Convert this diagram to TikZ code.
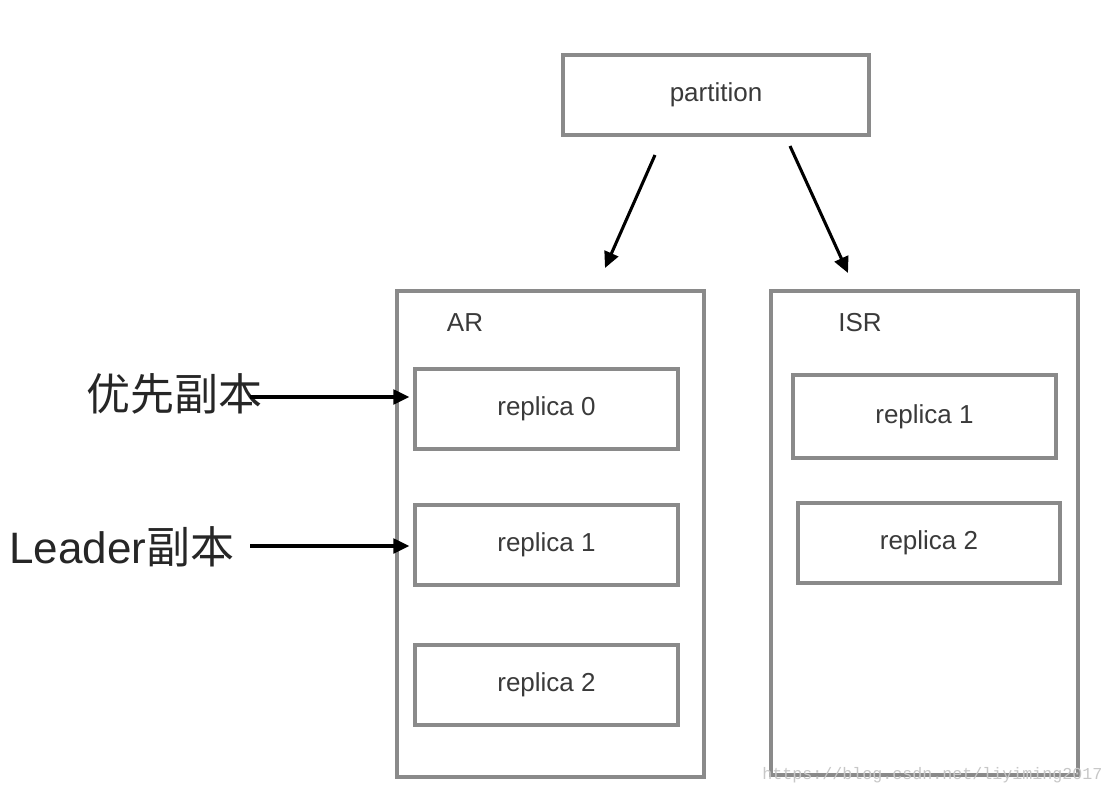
\documentclass[tikz,border=0pt]{standalone}
\usepackage{fontspec}
\setmainfont{Liberation Sans}
\newfontfamily\cjk{Noto Sans CJK SC}
\newfontfamily\wmfont{Liberation Mono}
\usetikzlibrary{arrows.meta}
\definecolor{boxgray}{HTML}{8A8A8A}
\definecolor{txtgray}{HTML}{3A3A3A}
\tikzset{
  box/.style={draw=boxgray, line width=2.4pt, rectangle, inner sep=0pt, text=txtgray, font=\fontsize{19.5}{22}\selectfont},
  arr/.style={draw=black, line width=2.3pt, -{Triangle[length=12pt,width=11pt]}},
  biglabel/.style={font=\fontsize{33}{38}\selectfont, text=black!85, inner sep=0pt},
  lbl/.style={text=txtgray, font=\fontsize{19.5}{22}\selectfont},
}
\begin{document}
\begin{tikzpicture}[x=0.75pt,y=-0.75pt]
\useasboundingbox (0,0) rectangle (1114,796);
% containers
\node[box, minimum width=306*0.75pt, minimum height=80*0.75pt] (part) at (716,95) {partition};
\node[box, minimum width=307*0.75pt, minimum height=486*0.75pt] (ar) at (550.5,534) {};
\node[box, minimum width=307*0.75pt, minimum height=484*0.75pt] (isr) at (924.5,533) {};
\node[lbl] (arlabel) at (465,323) {AR};
\node[lbl] (isrlabel) at (860,323) {ISR};
% AR replicas
\node[box, minimum width=263*0.75pt, minimum height=80*0.75pt] (ar0) at (546.5,409) {replica 0};
\node[box, minimum width=263*0.75pt, minimum height=80*0.75pt] (ar1) at (546.5,545) {replica 1};
\node[box, minimum width=263*0.75pt, minimum height=80*0.75pt] (ar2) at (546.5,685) {replica 2};
% ISR replicas
\node[box, minimum width=263*0.75pt, minimum height=83*0.75pt] (isr1) at (924.5,416.5) {replica 1};
\node[box, minimum width=262*0.75pt, minimum height=80*0.75pt] (isr2) at (929,543) {replica 2};
% left labels
\node[biglabel] (pref) at (174,394) {\cjk 优先副本};
\node[biglabel] (lead) at (122,547) {Leader{\cjk 副本}};
% arrow coordinates
\coordinate (pa1) at (655,155);
\coordinate (pa2) at (605,268);
\coordinate (pb1) at (790,146);
\coordinate (pb2) at (848,273);
\coordinate (la) at (250,397);
\coordinate (lb) at (250,546);
\draw[arr] (pa1) -- (pa2);
\draw[arr] (pb1) -- (pb2);
\draw[arr, shorten >=3pt] (la) -- (ar0.west |- la);
\draw[arr, shorten >=3pt] (lb) -- (ar1.west |- lb);
% watermark
\node[text=black!22, font=\wmfont\fontsize{12.5}{14}\selectfont, anchor=west, inner sep=0pt] (wm) at (762,775) {https://blog.csdn.net/liyiming2017};
\end{tikzpicture}
\end{document}
